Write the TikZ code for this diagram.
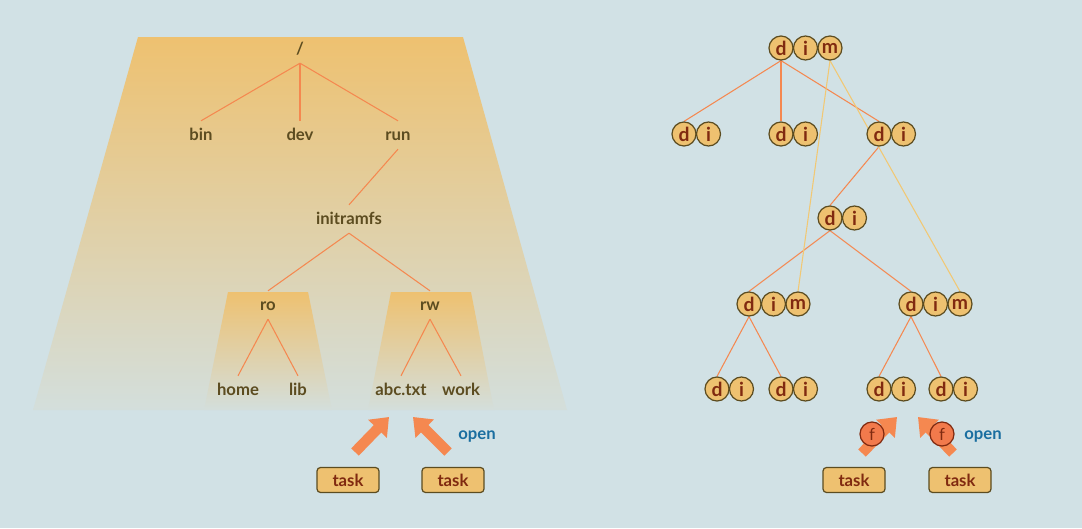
\documentclass[tikz,border=0pt]{standalone}
\usepackage{fontspec}
\setmainfont{Lato}
\usetikzlibrary{arrows.meta}
\definecolor{bgblue}{RGB}{209,225,229}
\definecolor{fsgold}{RGB}{238,193,112}
\definecolor{edgeorange}{RGB}{245,136,80}
\definecolor{inkbrown}{RGB}{92,76,32}
\definecolor{inkred}{RGB}{128,42,16}
\definecolor{mlinkcol}{RGB}{242,200,115}
\definecolor{openblue}{RGB}{26,110,160}
\definecolor{fileorange}{RGB}{242,122,76}
\pgfdeclarelayer{backdrop}
\pgfdeclarelayer{links}
\pgfsetlayers{backdrop,links,main}
\tikzset{
  fname/.style={font=\bfseries\fontsize{9.5}{11}\selectfont, text=inkbrown, inner sep=2.3pt, text height=1.7ex, text depth=.5ex},
  ent/.style={circle, draw=inkbrown, line width=0.7pt, fill=fsgold, minimum size=0.48cm, inner sep=0pt, font=\bfseries\fontsize{11}{12}\selectfont, text=inkred},
  fobj/.style={ent, fill=fileorange, draw=inkred, font=\fontsize{9.5}{10}\selectfont},
  taskbox/.style={draw=inkbrown, line width=0.7pt, fill=fsgold, rounded corners=2pt, minimum width=1.24cm, minimum height=0.5cm, inner sep=0pt, font=\bfseries\fontsize{9.5}{11}\selectfont, text=inkred},
  bigarrow/.style={draw=edgeorange, line width=0.21cm, -{Triangle[length=0.33cm,width=0.5cm]}},
  openlabel/.style={font=\bfseries\fontsize{9.5}{11}\selectfont, text=openblue}
}
\newcommand{\fname}[4]{\node[fname] (#1) at (#2,#3) {#4};}
\newcommand{\dgroup}[3]{\node[ent] (#1d) at (#2,#3) {d}; \node[ent] (#1i) at (#2+24.5,#3) {i};}
\newcommand{\dmgroup}[3]{\dgroup{#1}{#2}{#3} \node[ent] (#1m) at (#2+49,#3) {m};}
\newcommand{\link}[2]{\draw[edgeorange, line width=0.6pt] (#1.south) -- (#2.north);}
\newcommand{\mlink}[2]{\draw[mlinkcol, line width=0.6pt] (#1.south) -- (#2.north);}

\begin{document}
\begin{tikzpicture}[x=0.02cm, y=-0.02cm]
    \begin{pgfonlayer}{backdrop}
    \fill[bgblue] (0,0) rectangle (1082,528);
    % mount namespace shading
    \shade[top color=fsgold, bottom color=bgblue!92!fsgold] (138,37) -- (463,37) -- (567,410) -- (33,410) -- cycle;
    \shade[top color=fsgold, bottom color=bgblue!92!fsgold] (228,292) -- (308,292) -- (332,410) -- (204,410) -- cycle;
    \shade[top color=fsgold, bottom color=bgblue!92!fsgold] (391,292) -- (471,292) -- (494,410) -- (368,410) -- cycle;
    \end{pgfonlayer}
    \useasboundingbox (0,0) rectangle (1082,528);

    % path names
    \fname{root}{300}{49}{/}
    \fname{bin}{201}{135}{bin} \fname{dev}{300}{135}{dev} \fname{run}{398}{135}{run}
    \fname{initramfs}{349}{219}{initramfs}
    \fname{ro}{268}{305}{ro} \fname{rw}{430}{305}{rw}
    \fname{home}{238}{390}{home} \fname{lib}{298}{390}{lib}
    \fname{abc}{401}{390}{abc.txt} \fname{work}{461}{390}{work}
    \begin{pgfonlayer}{links}
    \link{root}{bin} \link{root}{dev} \link{root}{run}
    \link{run}{initramfs} \link{initramfs}{ro} \link{initramfs}{rw}
    \link{ro}{home} \link{ro}{lib} \link{rw}{abc} \link{rw}{work}
    \end{pgfonlayer}

    \coordinate (lt1) at (355,452); \coordinate (lh1) at (389,417);
    \coordinate (lt2) at (448,452); \coordinate (lh2) at (413,417);
    \draw[bigarrow] (lt1) -- (lh1); \draw[bigarrow] (lt2) -- (lh2);
    \node[openlabel] (lopen) at (477,437) {open};
    \node[taskbox] (ltask1) at (348,480) {task};
    \node[taskbox] (ltask2) at (453,480) {task};

    % dentries and inodes
    \dmgroup{t}{781}{48}
    \dgroup{a}{684}{134} \dgroup{b}{781}{134} \dgroup{c}{879}{134}
    \dgroup{e}{830}{218}
    \dmgroup{g}{749}{304} \dmgroup{h}{911}{304}
    \dgroup{p}{717}{389} \dgroup{q}{781}{389}
    \dgroup{r}{879}{389} \dgroup{s}{941}{389}
    \begin{pgfonlayer}{links}
    \link{td}{ad} \link{td}{bd} \link{td}{cd}
    \link{cd}{ed} \link{ed}{gd} \link{ed}{hd}
    \link{gd}{pd} \link{gd}{qd} \link{hd}{rd} \link{hd}{sd}
    \mlink{tm}{gm} \mlink{tm}{hm}
    \end{pgfonlayer}

    \coordinate (rt1) at (862,453); \coordinate (rh1) at (897,417);
    \coordinate (rt2) at (953,453); \coordinate (rh2) at (918,417);
    \draw[bigarrow] (rt1) -- (rh1); \draw[bigarrow] (rt2) -- (rh2);
    \node[fobj] (f1) at (872,434) {f};
    \node[fobj] (f2) at (942,434) {f};
    \node[openlabel] (ropen) at (983,437) {open};
    \node[taskbox] (rtask1) at (854,480) {task};
    \node[taskbox] (rtask2) at (960,480) {task};
\end{tikzpicture}
\end{document}
